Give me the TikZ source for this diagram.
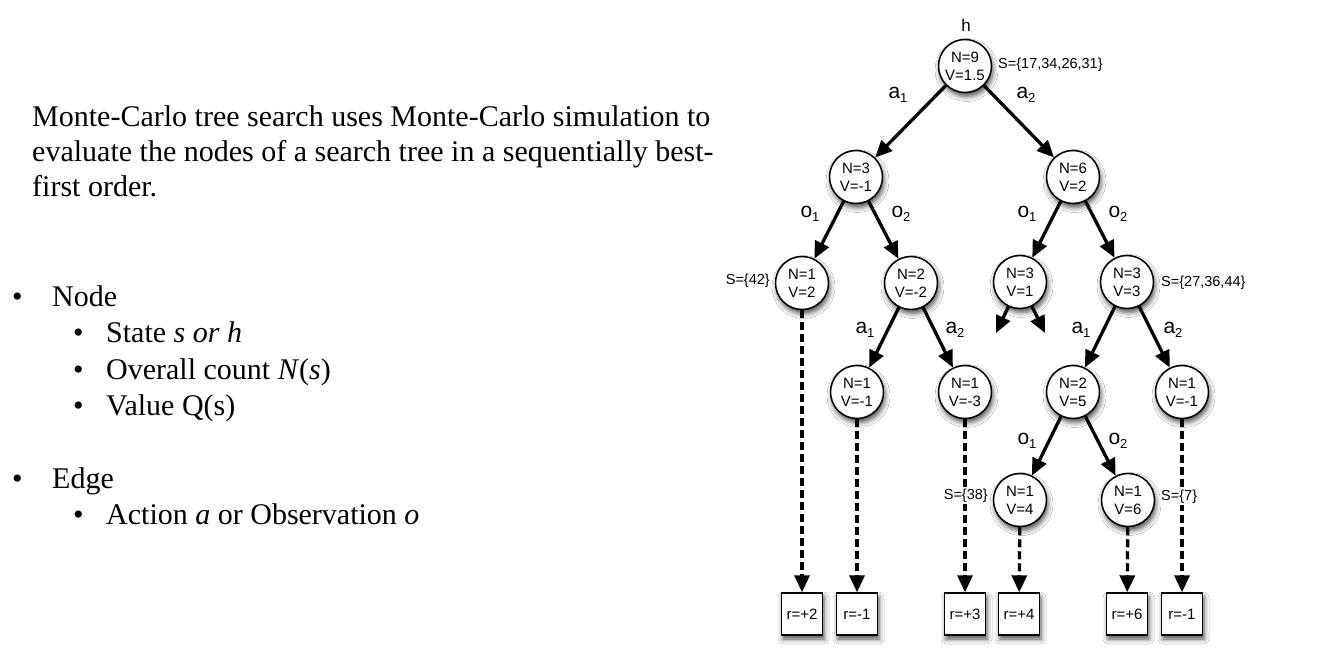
\documentclass[tikz,border=0pt]{standalone}
\usepackage{fontspec}
\setmainfont{Liberation Serif}
\setsansfont{Liberation Sans}
\usetikzlibrary{arrows.meta,shadows.blur}
\newcommand\edgelbl[2]{#1\raisebox{-4.5pt}{\fontsize{13}{13}\selectfont #2}}
\tikzset{
  shd/.style={blur shadow={shadow xshift=1.5pt,shadow yshift=-4pt,shadow blur radius=5pt,shadow opacity=70}},
  st/.style={circle,draw,line width=1.5pt,fill=white,minimum size=53pt,inner sep=0pt,align=center,
    font=\sffamily\fontsize{15}{18}\selectfont,shd},
  rw/.style={rectangle,draw,line width=1.4pt,fill=white,minimum width=41pt,minimum height=42pt,inner sep=0pt,
    text height=10.5pt,text depth=0pt,
    font=\sffamily\fontsize{15}{15}\selectfont,shd},
  tr/.style={line width=3.3pt,-{Triangle[length=17pt,width=15pt]}},
  sim/.style={tr,dash pattern=on 8pt off 4pt},
  lab/.style={font=\sffamily\fontsize{21}{21}\selectfont,inner sep=0pt},
  sl/.style={font=\sffamily\fontsize{14.5}{14.5}\selectfont,inner sep=1pt,fill=white},
  para/.style={font=\fontsize{30}{35}\selectfont,inner sep=0pt,anchor=base west},
}
\begin{document}
\begin{tikzpicture}[x=1pt,y=-1pt]
\useasboundingbox (0,0) rectangle (1338,664);
\fill[white] (0,0) rectangle (1338,664);

% left text
\node[para] (p1) at (32,126) {Monte-Carlo tree search uses Monte-Carlo simulation to};
\node[para] (p2) at (32,161) {evaluate the nodes of a search tree in a sequentially best-};
\node[para] (p3) at (32,196) {first order.};

\node[para] (b1) at (12,306) {•};
\node[para] (t1) at (52,306) {Node};
\node[para] (b2) at (73,342) {•};
\node[para] (t2) at (106,342) {State \textit{s or h}};
\node[para] (b3) at (73,379) {•};
\node[para] (t3) at (106,379) {Overall count \textit{N}(\textit{s})};
\node[para] (b4) at (73,415) {•};
\node[para] (t4) at (106,415) {Value Q(s)};
\node[para] (b5) at (12,488) {•};
\node[para] (t5) at (52,488) {Edge};
\node[para] (b6) at (73,524) {•};
\node[para] (t6) at (106,524) {Action \textit{a} or Observation \textit{o}};

% tree nodes
\node[st] (r)   at (965,66)   {N=9\\V=1.5};
\node[st] (l)   at (856,177)  {N=3\\V=-1};
\node[st] (rr)  at (1073,177) {N=6\\V=2};
\node[st] (ll)  at (802,283)  {N=1\\V=2};
\node[st] (lr)  at (911,283)  {N=2\\V=-2};
\node[st] (rl)  at (1020,282) {N=3\\V=1};
\node[st] (rrr) at (1127,282) {N=3\\V=3};
\node[st] (lra) at (857,392)  {N=1\\V=-1};
\node[st] (lrb) at (965,392)  {N=1\\V=-3};
\node[st] (rra) at (1073,392) {N=2\\V=5};
\node[st] (rrb) at (1182,392) {N=1\\V=-1};
\node[st] (rao) at (1020,500) {N=1\\V=4};
\node[st] (rap) at (1128,500) {N=1\\V=6};

% reward boxes
\node[rw] (w1) at (802,614)  {r=+2};
\node[rw] (w2) at (857,614)  {r=-1};
\node[rw] (w3) at (965,614)  {r=+3};
\node[rw] (w4) at (1019,614) {r=+4};
\node[rw] (w5) at (1127,614) {r=+6};
\node[rw] (w6) at (1182,614) {r=-1};

% free ends
\coordinate (e1) at (996,333);
\coordinate (e2) at (1045,333);

% edges
\draw[tr] (r) -- (l);
\draw[tr] (r) -- (rr);
\draw[tr] (l) -- (ll);
\draw[tr] (l) -- (lr);
\draw[tr] (rr) -- (rl);
\draw[tr] (rr) -- (rrr);
\draw[tr] (lr) -- (lra);
\draw[tr] (lr) -- (lrb);
\draw[tr] (rrr) -- (rra);
\draw[tr] (rrr) -- (rrb);
\draw[tr] (rra) -- (rao);
\draw[tr] (rra) -- (rap);
\draw[tr] (rl) -- (e1);
\draw[tr] (rl) -- (e2);

% simulations
\draw[sim] (ll) -- (w1);
\draw[sim] (lra) -- (w2);
\draw[sim] (lrb) -- (w3);
\draw[sim] (rao) -- (w4);
\draw[sim] (rap) -- (w5);
\draw[sim] (rrb) -- (w6);

% labels
\node[sl,anchor=base,fill=none] (hl) at (966,31) {\fontsize{17}{17}\selectfont h};
\node[sl,anchor=west] (s0) at (997,65) {S=\{17,34,26,31\}};
\node[sl,anchor=east] (s1) at (771,281) {S=\{42\}};
\node[sl,anchor=west] (s2) at (1160,283) {S=\{27,36,44\}};
\node[sl,anchor=east] (s3) at (989,496) {S=\{38\}};
\node[sl,anchor=west] (s4) at (1160,497) {S=\{7\}};

\node[lab] (ea1) at (898,95)  {\edgelbl{a}{1}};
\node[lab] (ea2) at (1026,95) {\edgelbl{a}{2}};
\node[lab] (eo1) at (810,214) {\edgelbl{o}{1}};
\node[lab] (eo2) at (901,214) {\edgelbl{o}{2}};
\node[lab] (eo3) at (1027,214) {\edgelbl{o}{1}};
\node[lab] (eo4) at (1118,214) {\edgelbl{o}{2}};
\node[lab] (ea3) at (865,330) {\edgelbl{a}{1}};
\node[lab] (ea4) at (955,330) {\edgelbl{a}{2}};
\node[lab] (ea5) at (1081,330) {\edgelbl{a}{1}};
\node[lab] (ea6) at (1173,330) {\edgelbl{a}{2}};
\node[lab] (eo5) at (1027,441) {\edgelbl{o}{1}};
\node[lab] (eo6) at (1118,441) {\edgelbl{o}{2}};
\end{tikzpicture}
\end{document}
